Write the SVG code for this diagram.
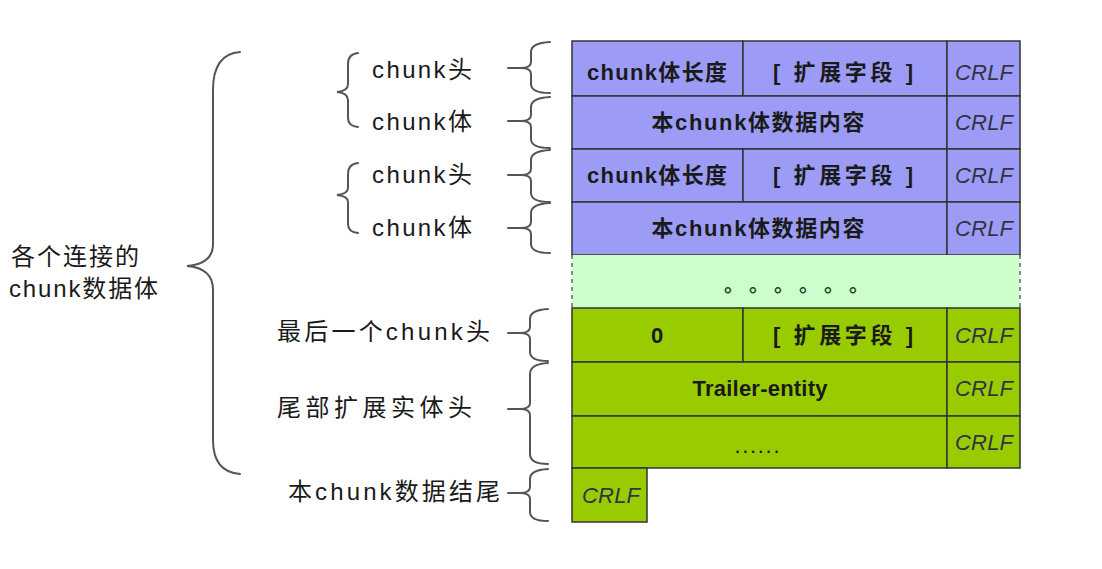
<svg xmlns="http://www.w3.org/2000/svg" width="1102" height="569" viewBox="0 0 1102 569">
<style>
.lbl{font-family:"Liberation Sans","Noto Sans CJK SC",sans-serif;font-size:24px;fill:#1a1a1a}
.cell{font-family:"Liberation Sans","Noto Sans CJK SC",sans-serif;font-size:22px;fill:#1a1a1a;font-weight:bold;text-anchor:middle}
.crlf{font-family:"Liberation Sans",sans-serif;font-size:22px;fill:#333344;font-style:italic;text-anchor:middle}
.p{fill:#9c9cf6;stroke:#333;stroke-width:1.5}
.g{fill:#99cc00;stroke:#333;stroke-width:1.5}
.lg{fill:#ccffcc;stroke:none}
.br{fill:none;stroke:#555;stroke-width:2;stroke-linecap:round}
</style>
<rect width="1102" height="569" fill="#ffffff"/>

<g id="connectors">
  <path class="br" d="M240,52 Q213,54 213,90 L213,244 Q213,264 187,266 Q213,268 213,290 L213,440 Q213,472 240,474"/>
  <path class="br" d="M358,53 Q348,54 348,64 L348,84 Q348,91 337,92 Q348,93 348,100 L348,118 Q348,126 358,127"/>
  <path class="br" d="M358,163 Q348,164 348,174 L348,188 Q348,194 337,195 Q348,196 348,202 L348,224 Q348,232 358,233"/>
  <path class="br" d="M550,42 Q531,43 531,52 L531,62 Q531,68 521,68 Q531,68 531,74 L531,84 Q531,93 550,93 M508,68 L521,68"/>
  <path class="br" d="M550,97 Q531,98 531,107 L531,115 Q531,121 521,121 Q531,121 531,127 L531,139 Q531,148 550,148 M508,121 L521,121"/>
  <path class="br" d="M550,150 Q531,151 531,160 L531,169 Q531,175 521,175 Q531,175 531,181 L531,193 Q531,202 550,202 M508,175 L521,175"/>
  <path class="br" d="M550,203 Q531,204 531,213 L531,222 Q531,228 521,228 Q531,228 531,234 L531,244 Q531,253 550,253 M508,228 L521,228"/>
  <path class="br" d="M548,309 Q530,310 530,319 L530,327 Q530,333 520,333 Q530,333 530,339 L530,352 Q530,361 548,361 M508,333 L520,333"/>
  <path class="br" d="M548,363 Q530,364 530,374 L530,403 Q530,409 520,409 Q530,409 530,415 L530,454 Q530,464 548,464 M508,409 L520,409"/>
  <path class="br" d="M548,469 Q530,470 530,479 L530,487 Q530,493 520,493 Q530,493 530,499 L530,512 Q530,521 548,521 M508,493 L520,493"/>
</g>

<g id="label-total">
  <text class="lbl" x="11" y="265" textLength="128">各个连接的</text>
  <text class="lbl" x="9" y="297" textLength="149">chunk数据体</text>
</g>
<g id="label-head1"><text class="lbl" x="372" y="78" textLength="100">chunk头</text></g>
<g id="label-body1"><text class="lbl" x="372" y="130" textLength="100">chunk体</text></g>
<g id="label-head2"><text class="lbl" x="372" y="183" textLength="100">chunk头</text></g>
<g id="label-body2"><text class="lbl" x="372" y="236" textLength="100">chunk体</text></g>
<g id="label-last-head"><text class="lbl" x="277" y="340" textLength="213">最后一个chunk头</text></g>
<g id="label-trailer"><text class="lbl" x="277" y="416" textLength="195">尾部扩展实体头</text></g>
<g id="label-end"><text class="lbl" x="288" y="500" textLength="212">本chunk数据结尾</text></g>

<g id="row-head1">
  <rect class="p" x="572" y="41" width="171" height="55"/>
  <rect class="p" x="743" y="41" width="204" height="55"/>
  <rect class="p" x="947" y="41" width="73" height="55"/>
  <text class="cell" x="657" y="80" textLength="140">chunk体长度</text>
  <text class="cell" x="843" y="80" textLength="140">[ 扩展字段 ]</text>
  <text class="crlf" x="984" y="80" textLength="58">CRLF</text>
</g>
<g id="row-body1">
  <rect class="p" x="572" y="96" width="375" height="53"/>
  <rect class="p" x="947" y="96" width="73" height="53"/>
  <text class="cell" x="758" y="130" textLength="213">本chunk体数据内容</text>
  <text class="crlf" x="984" y="130" textLength="58">CRLF</text>
</g>
<g id="row-head2">
  <rect class="p" x="572" y="149" width="171" height="53"/>
  <rect class="p" x="743" y="149" width="204" height="53"/>
  <rect class="p" x="947" y="149" width="73" height="53"/>
  <text class="cell" x="657" y="183" textLength="140">chunk体长度</text>
  <text class="cell" x="843" y="183" textLength="140">[ 扩展字段 ]</text>
  <text class="crlf" x="984" y="183" textLength="58">CRLF</text>
</g>
<g id="row-body2">
  <rect class="p" x="572" y="202" width="375" height="53"/>
  <rect class="p" x="947" y="202" width="73" height="53"/>
  <text class="cell" x="758" y="236" textLength="213">本chunk体数据内容</text>
  <text class="crlf" x="984" y="236" textLength="58">CRLF</text>
</g>
<g id="row-more">
  <rect class="lg" x="572" y="255" width="448" height="53"/>
  <line x1="572" y1="255" x2="572" y2="308" stroke="#666" stroke-width="1.5" stroke-dasharray="4,4"/>
  <line x1="1020" y1="255" x2="1020" y2="308" stroke="#666" stroke-width="1.5" stroke-dasharray="4,4"/>
  <text x="724 749 774 799 824 849" y="292" font-family="Noto Sans CJK SC,sans-serif" font-size="20" font-weight="bold" fill="#2a4a2a">。。。。。。</text>
</g>
<g id="row-last-head">
  <rect class="g" x="572" y="308" width="171" height="54"/>
  <rect class="g" x="743" y="308" width="204" height="54"/>
  <rect class="g" x="947" y="308" width="73" height="54"/>
  <text class="cell" x="657" y="343">0</text>
  <text class="cell" x="843" y="343" textLength="140">[ 扩展字段 ]</text>
  <text class="crlf" x="984" y="343" textLength="58">CRLF</text>
</g>
<g id="row-trailer">
  <rect class="g" x="572" y="362" width="375" height="54"/>
  <rect class="g" x="947" y="362" width="73" height="54"/>
  <text class="cell" x="760" y="396" textLength="135">Trailer-entity</text>
  <text class="crlf" x="984" y="396" textLength="58">CRLF</text>
</g>
<g id="row-trailer-more">
  <rect class="g" x="572" y="416" width="375" height="52"/>
  <rect class="g" x="947" y="416" width="73" height="52"/>
  <text class="cell" x="757" y="453" textLength="45" style="font-weight:normal">......</text>
  <text class="crlf" x="984" y="450" textLength="58">CRLF</text>
</g>
<g id="row-end">
  <rect class="g" x="572" y="468" width="75" height="54"/>
  <text class="crlf" x="611" y="503" textLength="58">CRLF</text>
</g>
</svg>
